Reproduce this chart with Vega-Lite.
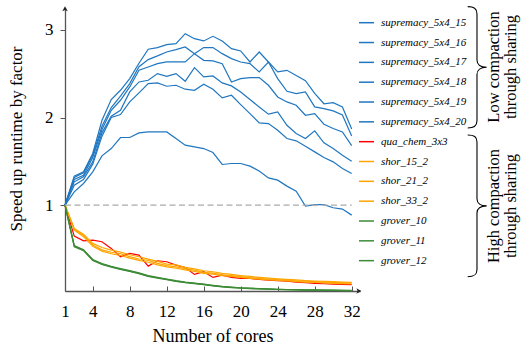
{
  "$schema": "https://vega.github.io/schema/vega-lite/v6.json",
  "width": 295,
  "height": 283,
  "autosize": "none",
  "padding": {"left": 65, "top": 8, "right": 161, "bottom": 54},
  "background": "white",
  "config": {
    "view": {"stroke": null},
    "font": "Liberation Serif",
    "axis": {"labelOverlap": false, "labelFlush": false, "grid": false}
  },
  "datasets": {
    "series": [
      {"s":"supremacy_5x4_15","c":1,"v":1.0},{"s":"supremacy_5x4_15","c":2,"v":1.331},{"s":"supremacy_5x4_15","c":3,"v":1.38},{"s":"supremacy_5x4_15","c":4,"v":1.589},{"s":"supremacy_5x4_15","c":5,"v":1.969},{"s":"supremacy_5x4_15","c":6,"v":2.205},{"s":"supremacy_5x4_15","c":7,"v":2.311},{"s":"supremacy_5x4_15","c":8,"v":2.444},{"s":"supremacy_5x4_15","c":9,"v":2.62},{"s":"supremacy_5x4_15","c":10,"v":2.779},{"s":"supremacy_5x4_15","c":11,"v":2.798},{"s":"supremacy_5x4_15","c":12,"v":2.832},{"s":"supremacy_5x4_15","c":13,"v":2.843},{"s":"supremacy_5x4_15","c":14,"v":2.957},{"s":"supremacy_5x4_15","c":15,"v":2.9},{"s":"supremacy_5x4_15","c":16,"v":2.874},{"s":"supremacy_5x4_15","c":17,"v":2.927},{"s":"supremacy_5x4_15","c":18,"v":2.874},{"s":"supremacy_5x4_15","c":19,"v":2.786},{"s":"supremacy_5x4_15","c":20,"v":2.76},{"s":"supremacy_5x4_15","c":21,"v":2.634},{"s":"supremacy_5x4_15","c":22,"v":2.748},{"s":"supremacy_5x4_15","c":23,"v":2.634},{"s":"supremacy_5x4_15","c":24,"v":2.52},{"s":"supremacy_5x4_15","c":25,"v":2.539},{"s":"supremacy_5x4_15","c":26,"v":2.48},{"s":"supremacy_5x4_15","c":27,"v":2.42},{"s":"supremacy_5x4_15","c":28,"v":2.275},{"s":"supremacy_5x4_15","c":29,"v":2.157},{"s":"supremacy_5x4_15","c":30,"v":2.17},{"s":"supremacy_5x4_15","c":31,"v":2.12},{"s":"supremacy_5x4_15","c":32,"v":1.87},
      {"s":"supremacy_5x4_16","c":1,"v":1.0},{"s":"supremacy_5x4_16","c":2,"v":1.315},{"s":"supremacy_5x4_16","c":3,"v":1.369},{"s":"supremacy_5x4_16","c":4,"v":1.57},{"s":"supremacy_5x4_16","c":5,"v":1.901},{"s":"supremacy_5x4_16","c":6,"v":2.114},{"s":"supremacy_5x4_16","c":7,"v":2.243},{"s":"supremacy_5x4_16","c":8,"v":2.387},{"s":"supremacy_5x4_16","c":9,"v":2.58},{"s":"supremacy_5x4_16","c":10,"v":2.661},{"s":"supremacy_5x4_16","c":11,"v":2.703},{"s":"supremacy_5x4_16","c":12,"v":2.748},{"s":"supremacy_5x4_16","c":13,"v":2.775},{"s":"supremacy_5x4_16","c":14,"v":2.805},{"s":"supremacy_5x4_16","c":15,"v":2.729},{"s":"supremacy_5x4_16","c":16,"v":2.798},{"s":"supremacy_5x4_16","c":17,"v":2.798},{"s":"supremacy_5x4_16","c":18,"v":2.729},{"s":"supremacy_5x4_16","c":19,"v":2.672},{"s":"supremacy_5x4_16","c":20,"v":2.634},{"s":"supremacy_5x4_16","c":21,"v":2.615},{"s":"supremacy_5x4_16","c":22,"v":2.52},{"s":"supremacy_5x4_16","c":23,"v":2.634},{"s":"supremacy_5x4_16","c":24,"v":2.444},{"s":"supremacy_5x4_16","c":25,"v":2.3},{"s":"supremacy_5x4_16","c":26,"v":2.273},{"s":"supremacy_5x4_16","c":27,"v":2.292},{"s":"supremacy_5x4_16","c":28,"v":2.121},{"s":"supremacy_5x4_16","c":29,"v":2.102},{"s":"supremacy_5x4_16","c":30,"v":2.076},{"s":"supremacy_5x4_16","c":31,"v":2.03},{"s":"supremacy_5x4_16","c":32,"v":1.79},
      {"s":"supremacy_5x4_17","c":1,"v":1.0},{"s":"supremacy_5x4_17","c":2,"v":1.293},{"s":"supremacy_5x4_17","c":3,"v":1.342},{"s":"supremacy_5x4_17","c":4,"v":1.544},{"s":"supremacy_5x4_17","c":5,"v":1.863},{"s":"supremacy_5x4_17","c":6,"v":2.083},{"s":"supremacy_5x4_17","c":7,"v":2.197},{"s":"supremacy_5x4_17","c":8,"v":2.349},{"s":"supremacy_5x4_17","c":9,"v":2.539},{"s":"supremacy_5x4_17","c":10,"v":2.577},{"s":"supremacy_5x4_17","c":11,"v":2.615},{"s":"supremacy_5x4_17","c":12,"v":2.634},{"s":"supremacy_5x4_17","c":13,"v":2.634},{"s":"supremacy_5x4_17","c":14,"v":2.634},{"s":"supremacy_5x4_17","c":15,"v":2.729},{"s":"supremacy_5x4_17","c":16,"v":2.653},{"s":"supremacy_5x4_17","c":17,"v":2.646},{"s":"supremacy_5x4_17","c":18,"v":2.615},{"s":"supremacy_5x4_17","c":19,"v":2.406},{"s":"supremacy_5x4_17","c":20,"v":2.444},{"s":"supremacy_5x4_17","c":21,"v":2.456},{"s":"supremacy_5x4_17","c":22,"v":2.456},{"s":"supremacy_5x4_17","c":23,"v":2.368},{"s":"supremacy_5x4_17","c":24,"v":2.235},{"s":"supremacy_5x4_17","c":25,"v":2.178},{"s":"supremacy_5x4_17","c":26,"v":2.14},{"s":"supremacy_5x4_17","c":27,"v":2.026},{"s":"supremacy_5x4_17","c":28,"v":2.045},{"s":"supremacy_5x4_17","c":29,"v":1.924},{"s":"supremacy_5x4_17","c":30,"v":1.874},{"s":"supremacy_5x4_17","c":31,"v":1.836},{"s":"supremacy_5x4_17","c":32,"v":1.68},
      {"s":"supremacy_5x4_18","c":1,"v":1.0},{"s":"supremacy_5x4_18","c":2,"v":1.266},{"s":"supremacy_5x4_18","c":3,"v":1.323},{"s":"supremacy_5x4_18","c":4,"v":1.494},{"s":"supremacy_5x4_18","c":5,"v":1.825},{"s":"supremacy_5x4_18","c":6,"v":2.015},{"s":"supremacy_5x4_18","c":7,"v":2.083},{"s":"supremacy_5x4_18","c":8,"v":2.292},{"s":"supremacy_5x4_18","c":9,"v":2.406},{"s":"supremacy_5x4_18","c":10,"v":2.425},{"s":"supremacy_5x4_18","c":11,"v":2.501},{"s":"supremacy_5x4_18","c":12,"v":2.471},{"s":"supremacy_5x4_18","c":13,"v":2.501},{"s":"supremacy_5x4_18","c":14,"v":2.414},{"s":"supremacy_5x4_18","c":15,"v":2.57},{"s":"supremacy_5x4_18","c":16,"v":2.463},{"s":"supremacy_5x4_18","c":17,"v":2.475},{"s":"supremacy_5x4_18","c":18,"v":2.395},{"s":"supremacy_5x4_18","c":19,"v":2.361},{"s":"supremacy_5x4_18","c":20,"v":2.292},{"s":"supremacy_5x4_18","c":21,"v":2.205},{"s":"supremacy_5x4_18","c":22,"v":2.121},{"s":"supremacy_5x4_18","c":23,"v":2.038},{"s":"supremacy_5x4_18","c":24,"v":2.064},{"s":"supremacy_5x4_18","c":25,"v":1.912},{"s":"supremacy_5x4_18","c":26,"v":1.817},{"s":"supremacy_5x4_18","c":27,"v":1.76},{"s":"supremacy_5x4_18","c":28,"v":1.848},{"s":"supremacy_5x4_18","c":29,"v":1.711},{"s":"supremacy_5x4_18","c":30,"v":1.646},{"s":"supremacy_5x4_18","c":31,"v":1.57},{"s":"supremacy_5x4_18","c":32,"v":1.5},
      {"s":"supremacy_5x4_19","c":1,"v":1.0},{"s":"supremacy_5x4_19","c":2,"v":1.228},{"s":"supremacy_5x4_19","c":3,"v":1.293},{"s":"supremacy_5x4_19","c":4,"v":1.468},{"s":"supremacy_5x4_19","c":5,"v":1.787},{"s":"supremacy_5x4_19","c":6,"v":2.0},{"s":"supremacy_5x4_19","c":7,"v":2.034},{"s":"supremacy_5x4_19","c":8,"v":2.178},{"s":"supremacy_5x4_19","c":9,"v":2.281},{"s":"supremacy_5x4_19","c":10,"v":2.387},{"s":"supremacy_5x4_19","c":11,"v":2.395},{"s":"supremacy_5x4_19","c":12,"v":2.357},{"s":"supremacy_5x4_19","c":13,"v":2.368},{"s":"supremacy_5x4_19","c":14,"v":2.323},{"s":"supremacy_5x4_19","c":15,"v":2.311},{"s":"supremacy_5x4_19","c":16,"v":2.38},{"s":"supremacy_5x4_19","c":17,"v":2.323},{"s":"supremacy_5x4_19","c":18,"v":2.224},{"s":"supremacy_5x4_19","c":19,"v":2.254},{"s":"supremacy_5x4_19","c":20,"v":2.148},{"s":"supremacy_5x4_19","c":21,"v":2.045},{"s":"supremacy_5x4_19","c":22,"v":1.939},{"s":"supremacy_5x4_19","c":23,"v":1.931},{"s":"supremacy_5x4_19","c":24,"v":1.855},{"s":"supremacy_5x4_19","c":25,"v":1.76},{"s":"supremacy_5x4_19","c":26,"v":1.734},{"s":"supremacy_5x4_19","c":27,"v":1.673},{"s":"supremacy_5x4_19","c":28,"v":1.608},{"s":"supremacy_5x4_19","c":29,"v":1.544},{"s":"supremacy_5x4_19","c":30,"v":1.494},{"s":"supremacy_5x4_19","c":31,"v":1.418},{"s":"supremacy_5x4_19","c":32,"v":1.36},
      {"s":"supremacy_5x4_20","c":1,"v":1.0},{"s":"supremacy_5x4_20","c":2,"v":1.152},{"s":"supremacy_5x4_20","c":3,"v":1.247},{"s":"supremacy_5x4_20","c":4,"v":1.38},{"s":"supremacy_5x4_20","c":5,"v":1.562},{"s":"supremacy_5x4_20","c":6,"v":1.646},{"s":"supremacy_5x4_20","c":7,"v":1.772},{"s":"supremacy_5x4_20","c":8,"v":1.772},{"s":"supremacy_5x4_20","c":9,"v":1.825},{"s":"supremacy_5x4_20","c":10,"v":1.836},{"s":"supremacy_5x4_20","c":11,"v":1.836},{"s":"supremacy_5x4_20","c":12,"v":1.836},{"s":"supremacy_5x4_20","c":13,"v":1.76},{"s":"supremacy_5x4_20","c":14,"v":1.684},{"s":"supremacy_5x4_20","c":15,"v":1.665},{"s":"supremacy_5x4_20","c":16,"v":1.646},{"s":"supremacy_5x4_20","c":17,"v":1.6},{"s":"supremacy_5x4_20","c":18,"v":1.464},{"s":"supremacy_5x4_20","c":19,"v":1.475},{"s":"supremacy_5x4_20","c":20,"v":1.475},{"s":"supremacy_5x4_20","c":21,"v":1.445},{"s":"supremacy_5x4_20","c":22,"v":1.39},{"s":"supremacy_5x4_20","c":23,"v":1.311},{"s":"supremacy_5x4_20","c":24,"v":1.285},{"s":"supremacy_5x4_20","c":25,"v":1.217},{"s":"supremacy_5x4_20","c":26,"v":1.16},{"s":"supremacy_5x4_20","c":27,"v":0.989},{"s":"supremacy_5x4_20","c":28,"v":1.005},{"s":"supremacy_5x4_20","c":29,"v":1.005},{"s":"supremacy_5x4_20","c":30,"v":0.97},{"s":"supremacy_5x4_20","c":31,"v":0.955},{"s":"supremacy_5x4_20","c":32,"v":0.886},
      {"s":"qua_chem_3x3","c":1,"v":1.0},{"s":"qua_chem_3x3","c":2,"v":0.647},{"s":"qua_chem_3x3","c":3,"v":0.593},{"s":"qua_chem_3x3","c":4,"v":0.601},{"s":"qua_chem_3x3","c":5,"v":0.582},{"s":"qua_chem_3x3","c":6,"v":0.506},{"s":"qua_chem_3x3","c":7,"v":0.411},{"s":"qua_chem_3x3","c":8,"v":0.449},{"s":"qua_chem_3x3","c":9,"v":0.43},{"s":"qua_chem_3x3","c":10,"v":0.304},{"s":"qua_chem_3x3","c":11,"v":0.365},{"s":"qua_chem_3x3","c":12,"v":0.354},{"s":"qua_chem_3x3","c":13,"v":0.316},{"s":"qua_chem_3x3","c":14,"v":0.289},{"s":"qua_chem_3x3","c":15,"v":0.209},{"s":"qua_chem_3x3","c":16,"v":0.24},{"s":"qua_chem_3x3","c":17,"v":0.175},{"s":"qua_chem_3x3","c":18,"v":0.202},{"s":"qua_chem_3x3","c":19,"v":0.175},{"s":"qua_chem_3x3","c":20,"v":0.164},{"s":"qua_chem_3x3","c":21,"v":0.164},{"s":"qua_chem_3x3","c":22,"v":0.152},{"s":"qua_chem_3x3","c":23,"v":0.145},{"s":"qua_chem_3x3","c":24,"v":0.137},{"s":"qua_chem_3x3","c":25,"v":0.133},{"s":"qua_chem_3x3","c":26,"v":0.122},{"s":"qua_chem_3x3","c":27,"v":0.114},{"s":"qua_chem_3x3","c":28,"v":0.107},{"s":"qua_chem_3x3","c":29,"v":0.103},{"s":"qua_chem_3x3","c":30,"v":0.099},{"s":"qua_chem_3x3","c":31,"v":0.095},{"s":"qua_chem_3x3","c":32,"v":0.092},
      {"s":"shor_15_2","c":1,"v":1.0},{"s":"shor_15_2","c":2,"v":0.734},{"s":"shor_15_2","c":3,"v":0.669},{"s":"shor_15_2","c":4,"v":0.563},{"s":"shor_15_2","c":5,"v":0.517},{"s":"shor_15_2","c":6,"v":0.487},{"s":"shor_15_2","c":7,"v":0.464},{"s":"shor_15_2","c":8,"v":0.434},{"s":"shor_15_2","c":9,"v":0.411},{"s":"shor_15_2","c":10,"v":0.384},{"s":"shor_15_2","c":11,"v":0.358},{"s":"shor_15_2","c":12,"v":0.327},{"s":"shor_15_2","c":13,"v":0.318},{"s":"shor_15_2","c":14,"v":0.289},{"s":"shor_15_2","c":15,"v":0.272},{"s":"shor_15_2","c":16,"v":0.251},{"s":"shor_15_2","c":17,"v":0.24},{"s":"shor_15_2","c":18,"v":0.221},{"s":"shor_15_2","c":19,"v":0.21},{"s":"shor_15_2","c":20,"v":0.196},{"s":"shor_15_2","c":21,"v":0.186},{"s":"shor_15_2","c":22,"v":0.176},{"s":"shor_15_2","c":23,"v":0.168},{"s":"shor_15_2","c":24,"v":0.16},{"s":"shor_15_2","c":25,"v":0.153},{"s":"shor_15_2","c":26,"v":0.146},{"s":"shor_15_2","c":27,"v":0.139},{"s":"shor_15_2","c":28,"v":0.134},{"s":"shor_15_2","c":29,"v":0.13},{"s":"shor_15_2","c":30,"v":0.126},{"s":"shor_15_2","c":31,"v":0.122},{"s":"shor_15_2","c":32,"v":0.118},
      {"s":"shor_21_2","c":1,"v":1.0},{"s":"shor_21_2","c":2,"v":0.725},{"s":"shor_21_2","c":3,"v":0.655},{"s":"shor_21_2","c":4,"v":0.545},{"s":"shor_21_2","c":5,"v":0.49},{"s":"shor_21_2","c":6,"v":0.462},{"s":"shor_21_2","c":7,"v":0.445},{"s":"shor_21_2","c":8,"v":0.412},{"s":"shor_21_2","c":9,"v":0.385},{"s":"shor_21_2","c":10,"v":0.37},{"s":"shor_21_2","c":11,"v":0.335},{"s":"shor_21_2","c":12,"v":0.31},{"s":"shor_21_2","c":13,"v":0.296},{"s":"shor_21_2","c":14,"v":0.275},{"s":"shor_21_2","c":15,"v":0.258},{"s":"shor_21_2","c":16,"v":0.232},{"s":"shor_21_2","c":17,"v":0.225},{"s":"shor_21_2","c":18,"v":0.205},{"s":"shor_21_2","c":19,"v":0.196},{"s":"shor_21_2","c":20,"v":0.184},{"s":"shor_21_2","c":21,"v":0.172},{"s":"shor_21_2","c":22,"v":0.165},{"s":"shor_21_2","c":23,"v":0.157},{"s":"shor_21_2","c":24,"v":0.15},{"s":"shor_21_2","c":25,"v":0.143},{"s":"shor_21_2","c":26,"v":0.137},{"s":"shor_21_2","c":27,"v":0.131},{"s":"shor_21_2","c":28,"v":0.126},{"s":"shor_21_2","c":29,"v":0.121},{"s":"shor_21_2","c":30,"v":0.117},{"s":"shor_21_2","c":31,"v":0.113},{"s":"shor_21_2","c":32,"v":0.109},
      {"s":"shor_33_2","c":1,"v":1.0},{"s":"shor_33_2","c":2,"v":0.715},{"s":"shor_33_2","c":3,"v":0.64},{"s":"shor_33_2","c":4,"v":0.53},{"s":"shor_33_2","c":5,"v":0.475},{"s":"shor_33_2","c":6,"v":0.445},{"s":"shor_33_2","c":7,"v":0.425},{"s":"shor_33_2","c":8,"v":0.395},{"s":"shor_33_2","c":9,"v":0.37},{"s":"shor_33_2","c":10,"v":0.348},{"s":"shor_33_2","c":11,"v":0.318},{"s":"shor_33_2","c":12,"v":0.296},{"s":"shor_33_2","c":13,"v":0.28},{"s":"shor_33_2","c":14,"v":0.262},{"s":"shor_33_2","c":15,"v":0.243},{"s":"shor_33_2","c":16,"v":0.222},{"s":"shor_33_2","c":17,"v":0.212},{"s":"shor_33_2","c":18,"v":0.196},{"s":"shor_33_2","c":19,"v":0.186},{"s":"shor_33_2","c":20,"v":0.174},{"s":"shor_33_2","c":21,"v":0.164},{"s":"shor_33_2","c":22,"v":0.156},{"s":"shor_33_2","c":23,"v":0.148},{"s":"shor_33_2","c":24,"v":0.141},{"s":"shor_33_2","c":25,"v":0.134},{"s":"shor_33_2","c":26,"v":0.128},{"s":"shor_33_2","c":27,"v":0.122},{"s":"shor_33_2","c":28,"v":0.117},{"s":"shor_33_2","c":29,"v":0.112},{"s":"shor_33_2","c":30,"v":0.108},{"s":"shor_33_2","c":31,"v":0.104},{"s":"shor_33_2","c":32,"v":0.1},
      {"s":"grover_10","c":1,"v":1.0},{"s":"grover_10","c":2,"v":0.533},{"s":"grover_10","c":3,"v":0.487},{"s":"grover_10","c":4,"v":0.373},{"s":"grover_10","c":5,"v":0.327},{"s":"grover_10","c":6,"v":0.297},{"s":"grover_10","c":7,"v":0.27},{"s":"grover_10","c":8,"v":0.247},{"s":"grover_10","c":9,"v":0.221},{"s":"grover_10","c":10,"v":0.19},{"s":"grover_10","c":11,"v":0.171},{"s":"grover_10","c":12,"v":0.152},{"s":"grover_10","c":13,"v":0.133},{"s":"grover_10","c":14,"v":0.118},{"s":"grover_10","c":15,"v":0.107},{"s":"grover_10","c":16,"v":0.095},{"s":"grover_10","c":17,"v":0.08},{"s":"grover_10","c":18,"v":0.069},{"s":"grover_10","c":19,"v":0.061},{"s":"grover_10","c":20,"v":0.054},{"s":"grover_10","c":21,"v":0.05},{"s":"grover_10","c":22,"v":0.046},{"s":"grover_10","c":23,"v":0.042},{"s":"grover_10","c":24,"v":0.038},{"s":"grover_10","c":25,"v":0.035},{"s":"grover_10","c":26,"v":0.035},{"s":"grover_10","c":27,"v":0.031},{"s":"grover_10","c":28,"v":0.031},{"s":"grover_10","c":29,"v":0.031},{"s":"grover_10","c":30,"v":0.027},{"s":"grover_10","c":31,"v":0.026},{"s":"grover_10","c":32,"v":0.025},
      {"s":"grover_11","c":1,"v":1.0},{"s":"grover_11","c":2,"v":0.54},{"s":"grover_11","c":3,"v":0.492},{"s":"grover_11","c":4,"v":0.38},{"s":"grover_11","c":5,"v":0.333},{"s":"grover_11","c":6,"v":0.302},{"s":"grover_11","c":7,"v":0.276},{"s":"grover_11","c":8,"v":0.252},{"s":"grover_11","c":9,"v":0.226},{"s":"grover_11","c":10,"v":0.196},{"s":"grover_11","c":11,"v":0.176},{"s":"grover_11","c":12,"v":0.157},{"s":"grover_11","c":13,"v":0.138},{"s":"grover_11","c":14,"v":0.122},{"s":"grover_11","c":15,"v":0.11},{"s":"grover_11","c":16,"v":0.098},{"s":"grover_11","c":17,"v":0.084},{"s":"grover_11","c":18,"v":0.072},{"s":"grover_11","c":19,"v":0.064},{"s":"grover_11","c":20,"v":0.057},{"s":"grover_11","c":21,"v":0.052},{"s":"grover_11","c":22,"v":0.048},{"s":"grover_11","c":23,"v":0.044},{"s":"grover_11","c":24,"v":0.04},{"s":"grover_11","c":25,"v":0.037},{"s":"grover_11","c":26,"v":0.036},{"s":"grover_11","c":27,"v":0.033},{"s":"grover_11","c":28,"v":0.032},{"s":"grover_11","c":29,"v":0.031},{"s":"grover_11","c":30,"v":0.029},{"s":"grover_11","c":31,"v":0.027},{"s":"grover_11","c":32,"v":0.026},
      {"s":"grover_12","c":1,"v":1.0},{"s":"grover_12","c":2,"v":0.525},{"s":"grover_12","c":3,"v":0.48},{"s":"grover_12","c":4,"v":0.368},{"s":"grover_12","c":5,"v":0.322},{"s":"grover_12","c":6,"v":0.292},{"s":"grover_12","c":7,"v":0.266},{"s":"grover_12","c":8,"v":0.243},{"s":"grover_12","c":9,"v":0.217},{"s":"grover_12","c":10,"v":0.186},{"s":"grover_12","c":11,"v":0.167},{"s":"grover_12","c":12,"v":0.149},{"s":"grover_12","c":13,"v":0.13},{"s":"grover_12","c":14,"v":0.115},{"s":"grover_12","c":15,"v":0.104},{"s":"grover_12","c":16,"v":0.092},{"s":"grover_12","c":17,"v":0.078},{"s":"grover_12","c":18,"v":0.067},{"s":"grover_12","c":19,"v":0.059},{"s":"grover_12","c":20,"v":0.052},{"s":"grover_12","c":21,"v":0.048},{"s":"grover_12","c":22,"v":0.044},{"s":"grover_12","c":23,"v":0.04},{"s":"grover_12","c":24,"v":0.037},{"s":"grover_12","c":25,"v":0.034},{"s":"grover_12","c":26,"v":0.033},{"s":"grover_12","c":27,"v":0.03},{"s":"grover_12","c":28,"v":0.029},{"s":"grover_12","c":29,"v":0.028},{"s":"grover_12","c":30,"v":0.026},{"s":"grover_12","c":31,"v":0.025},{"s":"grover_12","c":32,"v":0.024}
    ]
  },
  "layer": [
    {
      "data": {"name": "series"},
      "mark": {"type": "line", "strokeWidth": 1.2},
      "encoding": {
        "x": {
          "field": "c", "type": "quantitative",
          "scale": {"domain": [1, 32.9], "nice": false, "zero": false},
          "axis": {
            "values": [1, 4, 8, 12, 16, 20, 24, 28, 32],
            "tickCount": 40,
            "format": "d",
            "title": "Number of cores",
            "grid": false,
            "domainColor": "#555555", "domainWidth": 1.3,
            "tickColor": "#555555", "tickWidth": 1, "tickSize": -5,
            "labelFont": "Liberation Serif", "labelFontSize": 17, "labelColor": "black",
            "labelPadding": 17, "labelFlush": false, "labelOverlap": false,
            "titleFont": "Liberation Serif", "titleFontSize": 18, "titleFontWeight": "normal", "titleColor": "black",
            "titleX": 147.5, "titleY": 50.5, "titleAlign": "center", "titleBaseline": "alphabetic"
          }
        },
        "y": {
          "field": "v", "type": "quantitative",
          "scale": {"domain": [0.02, 3.25], "nice": false, "zero": false},
          "axis": {
            "values": [1, 2, 3],
            "tickCount": 20,
            "format": "d",
            "title": "Speed up runtime by factor",
            "grid": false,
            "domainColor": "#555555", "domainWidth": 1.3,
            "tickColor": "#555555", "tickWidth": 1, "tickSize": 5,
            "labelFont": "Liberation Serif", "labelFontSize": 17, "labelColor": "black",
            "labelPadding": 7, "labelFlush": false, "labelOverlap": false,
            "titleFont": "Liberation Serif", "titleFontSize": 17, "titleFontWeight": "normal", "titleColor": "black",
            "titleX": -43.7, "titleY": 130.5, "titleAngle": 270, "titleAlign": "center", "titleBaseline": "alphabetic"
          }
        },
        "color": {
          "field": "s", "type": "nominal",
          "scale": {
            "domain": ["supremacy_5x4_15", "supremacy_5x4_16", "supremacy_5x4_17", "supremacy_5x4_18", "supremacy_5x4_19", "supremacy_5x4_20", "qua_chem_3x3", "shor_15_2", "shor_21_2", "shor_33_2", "grover_10", "grover_11", "grover_12"],
            "range": ["#2077c0", "#2077c0", "#2077c0", "#2077c0", "#2077c0", "#2077c0", "#ff0000", "#ffa500", "#ffa500", "#ffa500", "#3d8b37", "#3d8b37", "#3d8b37"]
          },
          "legend": {
            "orient": "none", "legendX": 293, "legendY": 6.2,
            "title": null, "padding": 0,
            "symbolType": "stroke", "symbolSize": 225, "symbolStrokeWidth": 1.5,
            "labelFont": "Liberation Serif", "labelFontStyle": "italic", "labelFontSize": 11,
            "labelColor": "black", "labelOffset": 6, "labelLimit": 300,
            "rowPadding": 5.83
          }
        }
      }
    },
    {
      "data": {"values": [{}]},
      "mark": {"type": "rule", "stroke": "#aaaaaa", "strokeWidth": 1.2, "strokeDash": [6, 3.5]},
      "encoding": {
        "x": {"datum": 1, "type": "quantitative"},
        "x2": {"datum": 32},
        "y": {"datum": 1, "type": "quantitative"}
      }
    },
    {
      "data": {"values": [{}]},
      "mark": {"type": "point", "shape": "M -2 -1.1 L 0 0 L -2 1.1 L -1.5 0 Z", "size": 25, "filled": true, "color": "#222222", "opacity": 1, "strokeWidth": 0},
      "encoding": {
        "x": {"datum": 33.05, "type": "quantitative"},
        "y": {"datum": 0.02, "type": "quantitative"}
      }
    },
    {
      "data": {"values": [{}]},
      "mark": {"type": "point", "shape": "M -1.1 2 L 0 0 L 1.1 2 L 0 1.5 Z", "size": 25, "filled": true, "color": "#222222", "opacity": 1, "strokeWidth": 0},
      "encoding": {
        "x": {"datum": 1, "type": "quantitative"},
        "y": {"datum": 3.27, "type": "quantitative"}
      }
    },
    {
      "data": {"values": [{}]},
      "mark": {"type": "point", "shape": "M -0.153 -1 C -0.05 -1 0 -0.97 0 -0.88 L 0 -0.12 C 0 -0.04 0.06 0 0.16 0 C 0.06 0 0 0.04 0 0.12 L 0 0.88 C 0 0.97 -0.05 1 -0.153 1", "size": 14713, "filled": false, "color": "black", "opacity": 1, "strokeWidth": 1.1},
      "encoding": {
        "x": {"datum": 45.55, "type": "quantitative"},
        "y": {"datum": 2.573, "type": "quantitative"}
      }
    },
    {
      "data": {"values": [{}]},
      "mark": {"type": "point", "shape": "M -0.131 -1 C -0.04 -1 0 -0.975 0 -0.9 L 0 -0.1 C 0 -0.035 0.05 0 0.137 0 C 0.05 0 0 0.035 0 0.1 L 0 0.9 C 0 0.975 -0.04 1 -0.131 1", "size": 20079, "filled": false, "color": "black", "opacity": 1, "strokeWidth": 1.1},
      "encoding": {
        "x": {"datum": 45.55, "type": "quantitative"},
        "y": {"datum": 0.992, "type": "quantitative"}
      }
    },
    {
      "data": {"values": [{}]},
      "mark": {"type": "text", "text": ["Low compaction", "through sharing"], "angle": 270, "align": "center", "baseline": "middle", "font": "Liberation Serif", "fontSize": 16.5, "lineHeight": 17, "color": "black"},
      "encoding": {
        "x": {"datum": 47.39, "type": "quantitative"},
        "y": {"datum": 2.577, "type": "quantitative"}
      }
    },
    {
      "data": {"values": [{}]},
      "mark": {"type": "text", "text": ["High compaction", "through sharing"], "angle": 270, "align": "center", "baseline": "middle", "font": "Liberation Serif", "fontSize": 16.5, "lineHeight": 17, "color": "black"},
      "encoding": {
        "x": {"datum": 47.39, "type": "quantitative"},
        "y": {"datum": 0.99, "type": "quantitative"}
      }
    }
  ]
}
